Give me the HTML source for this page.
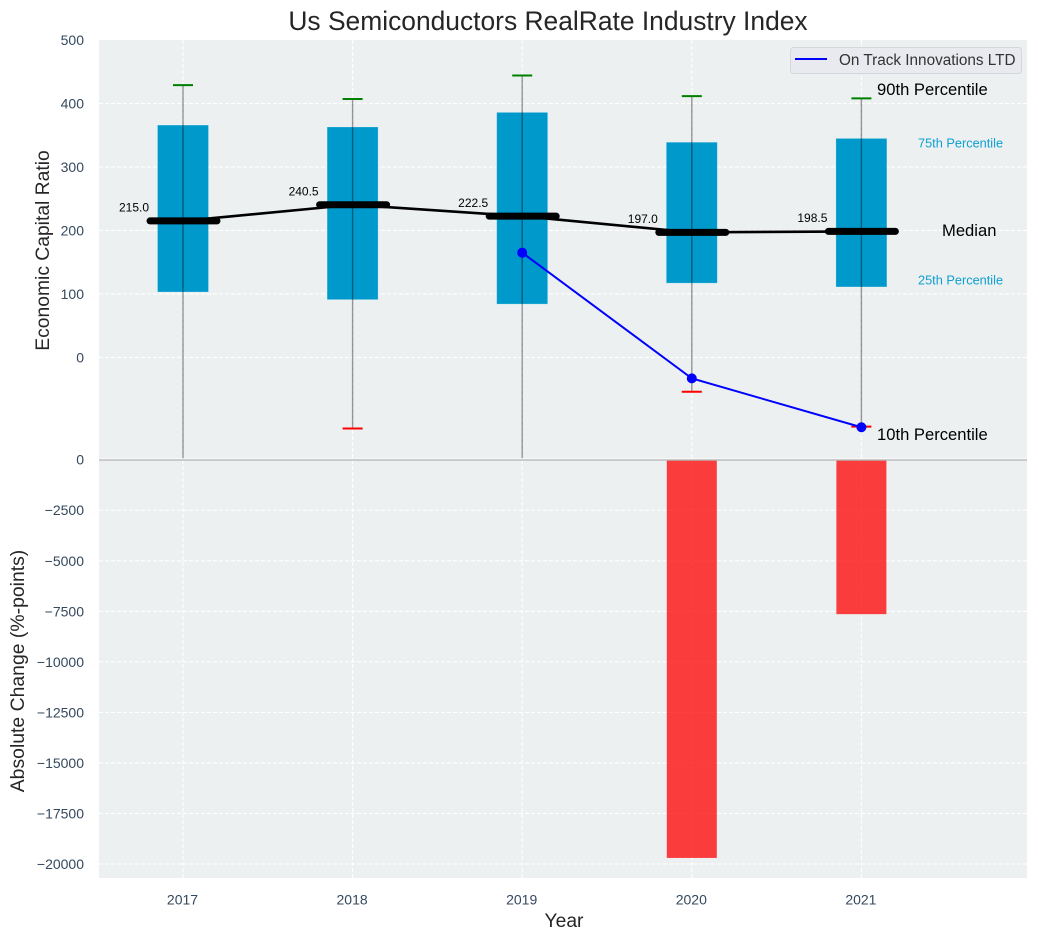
<!DOCTYPE html>
<html lang="en">
<head>
<meta charset="utf-8">
<title>Us Semiconductors RealRate Industry Index</title>
<style>
html,body{margin:0;padding:0;background:#fff;}
body{width:1038px;height:940px;overflow:hidden;font-family:"Liberation Sans",Arial,sans-serif;}
svg{display:block;}
text{font-family:"Liberation Sans",Arial,sans-serif;}
</style>
</head>
<body>
<svg id="chart" xmlns="http://www.w3.org/2000/svg" width="1038" height="940" viewBox="0 0 1038 940">
  <defs>
    <clipPath id="top-clip"><rect x="99" y="40" width="928" height="418.3"></rect></clipPath>
  </defs>
  <rect x="99" y="40" width="928" height="419" fill="#ecf0f1"></rect>
  <rect x="99" y="459" width="928" height="419" fill="#ecf0f1"></rect>
  <g id="grid"></g>
  <g id="bottom-marks"></g>
  <g id="top-marks" clip-path="url(#top-clip)"></g>
  <g id="labels"></g>
  <g id="ticks"></g>
  <rect x="99" y="458.4" width="928" height="1" fill="#ffffff"></rect>
  <rect x="99" y="459.3" width="928" height="1.4" fill="#b8b8b8"></rect>

  <text x="548" y="30" font-size="26.4" text-anchor="middle" fill="#262626">Us Semiconductors RealRate Industry Index</text>
  <text x="564" y="927" font-size="19.3" text-anchor="middle" fill="#262626">Year</text>
  <text transform="translate(49 250.5) rotate(-90)" font-size="19.3" text-anchor="middle" fill="#262626">Economic Capital Ratio</text>
  <text transform="translate(24 671) rotate(-90)" font-size="19.4" text-anchor="middle" fill="#262626">Absolute Change (%-points)</text>

  <text x="877" y="95" font-size="16.6" fill="#000">90th Percentile</text>
  <text x="918" y="147.3" font-size="12.75" fill="#0f9fd0">75th Percentile</text>
  <text x="942" y="236" font-size="16.6" fill="#000">Median</text>
  <text x="918" y="284.3" font-size="12.75" fill="#0f9fd0">25th Percentile</text>
  <text x="877" y="440" font-size="16.6" fill="#000">10th Percentile</text>

  <g>
    <rect x="790.5" y="47.5" width="231" height="26" rx="3" fill="#e8eaf0" stroke="#d3d6da" stroke-width="1"></rect>
    <line x1="795" y1="59" x2="827" y2="59" stroke="#0000ff" stroke-width="2"></line>
    <text x="839" y="65" font-size="15.3" fill="#333">On Track Innovations LTD</text>
  </g>
</svg>
<script>
// Chart data
const years = [2017, 2018, 2019, 2020, 2021];
const p90 = [429, 407, 444, 411.5, 408];
const p75 = [366, 363, 386, 339, 345];
const medians = [215.0, 240.5, 222.5, 197.0, 198.5];
const p25 = [103, 91, 84, 117, 111];
const p10 = [-200, -112, -190, -54, -109];
const companyYears = [2019, 2020, 2021];
const companyValues = [165, -33, -110];
const changeYears = [2020, 2021];
const changeValues = [-19700, -7640];
const topTicks = [500, 400, 300, 200, 100, 0];
const bottomTicks = [0, -2500, -5000, -7500, -10000, -12500, -15000, -17500, -20000];

// Axis functions
const xScale = v => 183 + (v - 2017) * 169.6;
const yTop = v => 40 + (500 - v) * 419 / 660;
const yBottom = v => 459.7 - v * 0.020215;

const NS = 'http://www.w3.org/2000/svg';
function make(tag, parent, attrs, content) {
  const el = document.createElementNS(NS, tag);
  for (const k in attrs) el.setAttribute(k, attrs[k]);
  if (content !== undefined) el.textContent = content;
  parent.appendChild(el);
  return el;
}
const grid = document.getElementById('grid');
const topMarks = document.getElementById('top-marks');
const bottomMarks = document.getElementById('bottom-marks');
const labels = document.getElementById('labels');
const ticks = document.getElementById('ticks');
const dash = { stroke: '#ffffff', 'stroke-width': 1.1, 'stroke-dasharray': '4 2', fill: 'none' };
const tickColor = '#34495e';

// Horizontal grid and y tick labels
topTicks.forEach(t => {
  const y = yTop(t);
  if (t !== 500) {
    const g = make('line', grid, Object.assign({ x1: 99, x2: 1027, y1: y, y2: y }, dash));
    
    
  }
  const l = make('text', ticks, { x: 84, y: y + 5, 'font-size': 14, 'text-anchor': 'end', fill: tickColor }, String(t));
  
  
});
bottomTicks.forEach(t => {
  const y = yBottom(t);
  if (t !== 0) {
    const g = make('line', grid, Object.assign({ x1: 99, x2: 1027, y1: y, y2: y }, dash));
    
    
  }
  const txt = t < 0 ? '\u2212' + Math.abs(t) : String(t);
  const l = make('text', ticks, { x: 84, y: y + 5, 'font-size': 14, 'text-anchor': 'end', fill: tickColor }, txt);
  
  
});

// Vertical grid and x tick labels
years.forEach(yr => {
  const x = xScale(yr);
  const g = make('line', grid, Object.assign({ x1: x, x2: x, y1: 40, y2: 878 }, dash));
  
  
  const l = make('text', ticks, { x: x - 0.5, y: 904.3, 'font-size': 14, 'text-anchor': 'middle', fill: tickColor }, String(yr));
  
  
});

// Change bars (bottom panel)
changeYears.forEach((yr, i) => {
  const y0 = yBottom(0);
  const y1 = yBottom(changeValues[i]);
  const b = make('rect', bottomMarks, { x: xScale(yr) - 25, y: y0, width: 50, height: y1 - y0, fill: '#ff0000', 'fill-opacity': 0.75 });
  
  
});

// Interquartile boxes
years.forEach((yr, i) => {
  const x = xScale(yr);
  const b = make('rect', topMarks, { x: x - 25.5, y: yTop(p75[i]), width: 51, height: yTop(p25[i]) - yTop(p75[i]), fill: '#0099cc', stroke: '#ffffff', 'stroke-opacity': 0.3, 'stroke-width': 0.8 });
  
  
});

// Whiskers and p90 / p10 caps
years.forEach((yr, i) => {
  const x = xScale(yr);
  const w = make('line', topMarks, { x1: x, x2: x, y1: yTop(p90[i]), y2: yTop(p10[i]), stroke: '#000', 'stroke-opacity': 0.4, 'stroke-width': 1.4 });
  
  
  const c1 = make('line', topMarks, { x1: x - 10, x2: x + 10, y1: yTop(p90[i]), y2: yTop(p90[i]), stroke: '#008000', 'stroke-width': 2 });
  
  
  const c2 = make('line', topMarks, { x1: x - 10, x2: x + 10, y1: yTop(p10[i]), y2: yTop(p10[i]), stroke: '#ff0000', 'stroke-width': 2 });
  
  
});

// Median trend line and thick median markers
const medianPath = make('polyline', topMarks, {
  points: years.map((yr, i) => xScale(yr) + ',' + yTop(medians[i])).join(' '),
  fill: 'none', stroke: '#000', 'stroke-width': 2.6
});


years.forEach((yr, i) => {
  const x = xScale(yr);
  const y = yTop(medians[i]);
  const m = make('line', topMarks, { x1: x - 33, x2: x + 34, y1: y, y2: y, stroke: '#000', 'stroke-width': 7, 'stroke-linecap': 'round' });
  
  
  const t = make('text', labels, { x: x - 49, y: y - 9.3, 'font-size': 12, 'text-anchor': 'middle', fill: '#000' }, medians[i].toFixed(1));
  
  
});

// Company line
const companyLine = make('polyline', topMarks, {
  points: companyYears.map((yr, i) => xScale(yr) + ',' + yTop(companyValues[i])).join(' '),
  fill: 'none', stroke: '#0000ff', 'stroke-width': 2
});


companyYears.forEach((yr, i) => {
  const p = make('circle', topMarks, { cx: xScale(yr), cy: yTop(companyValues[i]), r: 5, fill: '#0000ff' });
  
  
});
</script>
</body>
</html>
